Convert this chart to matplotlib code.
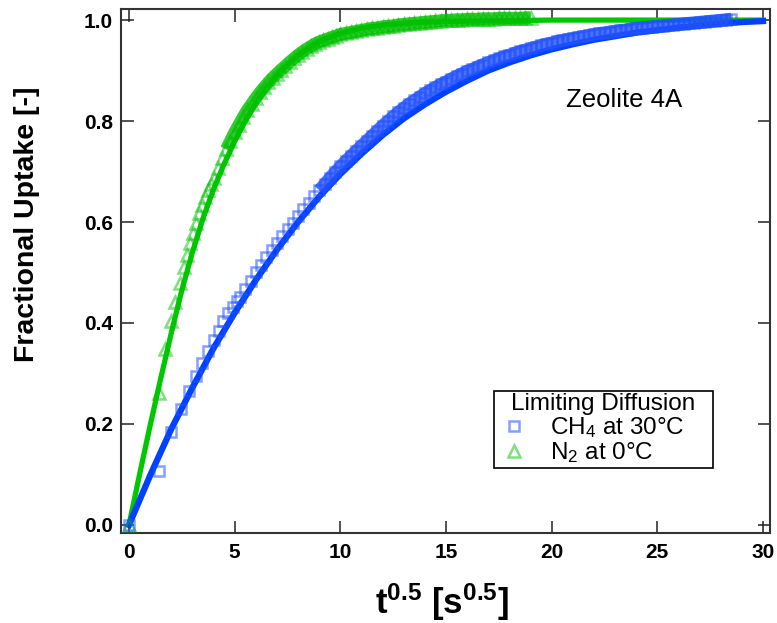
import matplotlib
matplotlib.use("Agg")
import matplotlib.pyplot as plt
from matplotlib.lines import Line2D

plt.rcParams['font.family'] = ['Liberation Sans', 'DejaVu Sans']
plt.rcParams['mathtext.fontset'] = 'custom'
plt.rcParams['mathtext.rm'] = 'Liberation Sans'
plt.rcParams['mathtext.it'] = 'Liberation Sans:italic'
plt.rcParams['mathtext.bf'] = 'Liberation Sans:bold'

# --- data (x = t^0.5 in s^0.5, y = fractional uptake) ---
# CH4 at 30 C, measured points
ch4_x = [0, 1.42, 2.0, 2.45, 2.83, 3.16, 3.46, 3.74, 4.0, 4.24, 4.47, 4.69, 4.9, 5.1,
         5.25, 5.5, 5.75, 6.0, 6.25, 6.5, 6.75, 7.0, 7.25, 7.5, 7.75, 8.0, 8.25, 8.5, 8.75,
         9.0, 9.25, 9.5, 9.75, 10.0, 10.25, 10.5, 10.75, 11.0, 11.25, 11.5, 11.75, 12.0,
         12.25, 12.5, 12.75, 13.0, 13.25, 13.5, 13.75, 14.0, 14.25, 14.5, 14.75, 15.0,
         15.25, 15.5, 15.75, 16.0, 16.25, 16.5, 16.75, 17.0, 17.25, 17.5, 17.75, 18.0,
         18.25, 18.5, 18.75, 19.0, 19.25, 19.5, 19.75, 20.0, 20.25, 20.5, 20.75, 21.0,
         21.25, 21.5, 21.75, 22.0, 22.25, 22.5, 22.75, 23.0, 23.25, 23.5, 23.75, 24.0,
         24.25, 24.5, 24.75, 25.0, 25.25, 25.5, 25.75, 26.0, 26.25, 26.5, 26.75, 27.0,
         27.25, 27.5, 27.75, 28.0, 28.25, 28.5]
ch4_y = [0.0, 0.106, 0.184, 0.229, 0.266, 0.295, 0.320, 0.345, 0.366, 0.385, 0.403, 0.419, 0.432, 0.444,
         0.452, 0.468, 0.484, 0.500, 0.515, 0.530, 0.544, 0.558, 0.572, 0.586, 0.599, 0.612, 0.625, 0.638, 0.651,
         0.663, 0.675, 0.687, 0.699, 0.710, 0.721, 0.731, 0.741, 0.751, 0.761, 0.771, 0.781, 0.791,
         0.800, 0.809, 0.818, 0.826, 0.834, 0.841, 0.848, 0.855, 0.861, 0.867, 0.873, 0.878,
         0.884, 0.889, 0.894, 0.899, 0.903, 0.908, 0.912, 0.916, 0.920, 0.924, 0.928, 0.931,
         0.935, 0.938, 0.941, 0.944, 0.947, 0.950, 0.953, 0.955, 0.958, 0.960, 0.962, 0.964,
         0.966, 0.968, 0.970, 0.972, 0.974, 0.975, 0.977, 0.978, 0.980, 0.981, 0.983, 0.984,
         0.985, 0.986, 0.987, 0.988, 0.989, 0.990, 0.991, 0.992, 0.993, 0.994, 0.995, 0.996,
         0.997, 0.998, 0.999, 1.000, 1.001, 1.002]

# N2 at 0 C, measured points
n2_x = [0, 1.43, 1.72, 1.97, 2.19, 2.39, 2.58, 2.75, 2.9, 3.05, 3.19, 3.33, 3.46, 3.6, 3.73, 3.86,
        4.0, 4.2, 4.4, 4.6, 4.8, 5.0, 5.2, 5.4, 5.6, 5.8, 6.0, 6.2, 6.4, 6.6, 6.8, 7.0, 7.2, 7.4,
        7.6, 7.8, 8.0, 8.2, 8.4, 8.6, 8.8, 9.0, 9.2, 9.4, 9.6, 9.8, 10.0,
        10.25, 10.5, 10.75, 11.0, 11.25, 11.5, 11.75, 12.0, 12.25, 12.5, 12.75, 13.0, 13.25,
        13.5, 13.75, 14.0, 14.25, 14.5, 14.75, 15.0, 15.25, 15.5, 15.75, 16.0, 16.25, 16.5,
        16.75, 17.0, 17.25, 17.5, 17.75, 18.0, 18.25, 18.5, 18.75, 19.0]
n2_y = [0.0, 0.261, 0.348, 0.403, 0.442, 0.479, 0.510, 0.535, 0.558, 0.579, 0.599, 0.617, 0.634, 0.650, 0.664, 0.676,
        0.688, 0.707, 0.726, 0.744, 0.761, 0.778, 0.793, 0.808, 0.822, 0.834, 0.846, 0.857, 0.867, 0.877, 0.886,
        0.894, 0.902, 0.909, 0.917, 0.924, 0.931, 0.937, 0.943, 0.948, 0.953, 0.957, 0.960, 0.963, 0.966, 0.969, 0.972,
        0.974, 0.976, 0.978, 0.980, 0.982, 0.984, 0.985, 0.987, 0.988, 0.989, 0.991, 0.992, 0.993,
        0.994, 0.995, 0.996, 0.997, 0.998, 0.999, 1.000, 1.000, 1.001, 1.001, 1.002, 1.002, 1.002,
        1.003, 1.003, 1.003, 1.004, 1.004, 1.004, 1.004, 1.004, 1.005, 1.005]

# model curves
ch4_fit_x = [0, 1, 2, 3, 4, 5, 6, 7, 8, 9, 10, 11, 12, 13, 14, 15, 16, 17, 18, 19, 20,
             21, 22, 23, 24, 25, 26, 27, 28, 29, 30]
ch4_fit_y = [0.0, 0.098, 0.190, 0.272, 0.350, 0.420, 0.485, 0.545, 0.600, 0.650, 0.695,
             0.735, 0.772, 0.805, 0.833, 0.858, 0.880, 0.900, 0.916, 0.930, 0.942,
             0.952, 0.961, 0.968, 0.975, 0.980, 0.985, 0.989, 0.993, 0.996, 0.998]

n2_fit_x = [0, 0.5, 1, 1.5, 2, 2.5, 3, 3.5, 4, 4.5, 5, 5.5, 6, 6.5, 7, 7.5, 8, 8.5, 9, 9.5,
            10, 11, 12, 13, 14, 16, 18, 20, 25, 30]
n2_fit_y = [0.0, 0.100, 0.197, 0.290, 0.380, 0.465, 0.540, 0.607, 0.665, 0.715, 0.760,
            0.800, 0.835, 0.865, 0.890, 0.912, 0.930, 0.945, 0.957, 0.966,
            0.974, 0.984, 0.990, 0.994, 0.996, 0.998, 0.999, 1.0, 1.0, 1.0]

x_ticks = [0, 5, 10, 15, 20, 25, 30]
y_ticks = [0.0, 0.2, 0.4, 0.6, 0.8, 1.0]

BLUE_PTS = '#2050ff'
GREEN_PTS = '#00c000'

fig = plt.figure(figsize=(7.77, 6.23), dpi=100)
ax = fig.add_axes([0.1557, 0.1445, 0.8353, 0.8411])

ax.plot(n2_fit_x, n2_fit_y, color='#00c800', lw=3.8, zorder=2)
ax.plot(ch4_fit_x, ch4_fit_y, color='#0040ff', lw=4.5, zorder=3)

# where the points sit so close that they merge into a solid band
n2_band = n2_x.index(4.6)
ch4_band = ch4_x.index(9.0)
ax.plot(n2_x[n2_band:], n2_y[n2_band:], color=GREEN_PTS, lw=9, alpha=0.8,
        solid_capstyle='butt', zorder=4)
ax.plot(ch4_x[ch4_band:], ch4_y[ch4_band:], color=BLUE_PTS, lw=9, alpha=0.8,
        solid_capstyle='butt', zorder=5)

ax.plot(n2_x, n2_y, ls='none', marker='^', ms=8.5, mfc='none', mec=GREEN_PTS,
        mew=1.8, alpha=0.5, zorder=6)
ax.plot(ch4_x, ch4_y, ls='none', marker='s', ms=7, mfc='none', mec=BLUE_PTS,
        mew=1.8, alpha=0.55, zorder=7)

ax.set_xlim(-0.38, 30.33)
ax.set_ylim(-0.016, 1.022)
ax.set_xticks(x_ticks)
ax.set_xticklabels([str(v) for v in x_ticks], fontweight='bold')
ax.set_yticks(y_ticks)
ax.set_yticklabels([f"{v:.1f}" for v in y_ticks], fontweight='bold')
ax.tick_params(direction='in', length=9, width=1.1, top=True, right=True,
               labelsize=15, color='#222222')
ax.tick_params(axis='x', pad=7)
ax.tick_params(axis='y', pad=6)
for sp in ax.spines.values():
    sp.set_linewidth(1.5)
    sp.set_color('#333333')

ax.set_ylabel('Fractional Uptake [-]', fontsize=20.5, fontweight='bold')
ax.yaxis.set_label_coords(-0.125, 0.59)
ax.set_xlabel(r'$\mathbf{t^{0.5}\ [s^{0.5}]}$', fontsize=25)
ax.xaxis.set_label_coords(0.495, -0.092)

ax.text(0.686, 0.826, 'Zeolite 4A', transform=ax.transAxes, fontsize=18.5,
        ha='left', va='center')

handles = [
    Line2D([], [], ls='none', marker='s', ms=7, mfc='none', mec=BLUE_PTS, mew=1.8, alpha=0.55),
    Line2D([], [], ls='none', marker='^', ms=8.5, mfc='none', mec=GREEN_PTS, mew=1.8, alpha=0.5),
]
labels = ['CH$_4$ at 30°C', 'N$_2$ at 0°C']
leg = ax.legend(handles, labels, title='Limiting Diffusion', loc='upper left',
                bbox_to_anchor=(0.575, 0.128, 0.337, 0.143), mode='expand',
                frameon=True, fancybox=False, edgecolor='black', framealpha=1,
                fontsize=17.5, title_fontsize=17.5, handlelength=1.4,
                handletextpad=0.8, borderpad=0.1, labelspacing=0.0,
                borderaxespad=0)
leg.get_frame().set_linewidth(1.2)

fig.savefig('out.png', dpi=100)
